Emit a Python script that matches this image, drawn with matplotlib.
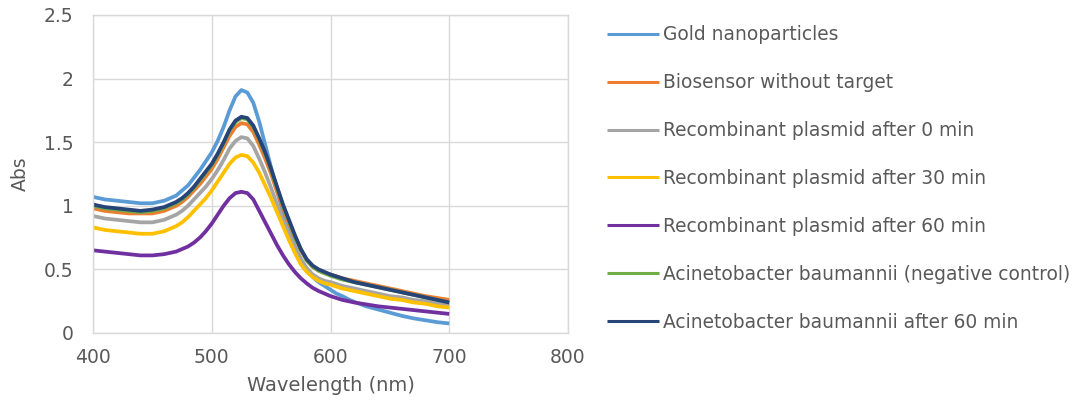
import matplotlib
matplotlib.use("Agg")
import matplotlib.pyplot as plt

wavelength = [400, 410, 420, 430, 440, 450,
              460, 465, 470, 475, 480, 485, 490, 495, 500, 505, 510, 515, 520, 525, 530, 535,
              540, 545, 550, 555, 560, 565, 570, 575, 580, 585, 590, 595, 600, 605, 610, 615, 620,
              630, 640, 650, 660, 670, 680, 690, 700]

gold = [1.07, 1.05, 1.04, 1.03, 1.02, 1.02,
        1.04, 1.06, 1.08, 1.12, 1.16, 1.22, 1.28, 1.35, 1.42, 1.51, 1.62, 1.75, 1.86, 1.91, 1.89, 1.81,
        1.66, 1.48, 1.30, 1.12, 0.95, 0.80, 0.68, 0.58, 0.50, 0.44, 0.40, 0.37, 0.34, 0.31, 0.29, 0.265, 0.245,
        0.21, 0.185, 0.16, 0.135, 0.115, 0.10, 0.085, 0.075]
biosensor = [0.98, 0.96, 0.95, 0.94, 0.94, 0.94,
             0.96, 0.98, 1.00, 1.03, 1.07, 1.12, 1.17, 1.23, 1.29, 1.37, 1.46, 1.55, 1.62, 1.65, 1.64, 1.58,
             1.48, 1.37, 1.25, 1.11, 0.98, 0.86, 0.75, 0.65, 0.57, 0.52, 0.49, 0.47, 0.46, 0.445, 0.43, 0.42, 0.41,
             0.39, 0.37, 0.35, 0.33, 0.31, 0.29, 0.275, 0.26]
plasmid_0 = [0.92, 0.90, 0.89, 0.88, 0.87, 0.87,
             0.89, 0.91, 0.93, 0.96, 1.00, 1.05, 1.10, 1.15, 1.21, 1.28, 1.36, 1.45, 1.51, 1.54, 1.53, 1.47,
             1.37, 1.26, 1.14, 1.01, 0.89, 0.78, 0.67, 0.58, 0.51, 0.46, 0.43, 0.41, 0.40, 0.385, 0.37, 0.36, 0.35,
             0.33, 0.31, 0.29, 0.28, 0.26, 0.25, 0.23, 0.22]
plasmid_30 = [0.83, 0.81, 0.80, 0.79, 0.78, 0.78,
              0.80, 0.82, 0.84, 0.87, 0.91, 0.96, 1.01, 1.06, 1.12, 1.19, 1.26, 1.33, 1.38, 1.40, 1.39, 1.34,
              1.26, 1.16, 1.06, 0.95, 0.84, 0.73, 0.63, 0.54, 0.48, 0.44, 0.41, 0.39, 0.38, 0.365, 0.35, 0.34, 0.33,
              0.31, 0.29, 0.27, 0.26, 0.24, 0.23, 0.21, 0.20]
plasmid_60 = [0.65, 0.64, 0.63, 0.62, 0.61, 0.61,
              0.62, 0.63, 0.64, 0.66, 0.68, 0.71, 0.75, 0.80, 0.86, 0.93, 1.00, 1.06, 1.10, 1.11, 1.10, 1.05,
              0.96, 0.87, 0.78, 0.69, 0.61, 0.54, 0.48, 0.43, 0.39, 0.355, 0.33, 0.31, 0.29, 0.275, 0.26, 0.25, 0.24,
              0.225, 0.21, 0.20, 0.19, 0.18, 0.17, 0.16, 0.15]
acineto_neg = [1.00, 0.98, 0.97, 0.96, 0.95, 0.96,
               0.98, 1.00, 1.02, 1.05, 1.09, 1.14, 1.20, 1.26, 1.32, 1.40, 1.49, 1.59, 1.66, 1.69, 1.68, 1.62,
               1.52, 1.41, 1.28, 1.14, 1.00, 0.88, 0.76, 0.66, 0.57, 0.52, 0.49, 0.47, 0.45, 0.435, 0.42, 0.41, 0.40,
               0.38, 0.36, 0.34, 0.32, 0.30, 0.28, 0.26, 0.24]
acineto_60 = [1.01, 0.99, 0.98, 0.97, 0.96, 0.97,
              0.99, 1.01, 1.03, 1.06, 1.10, 1.15, 1.21, 1.27, 1.33, 1.41, 1.50, 1.60, 1.67, 1.70, 1.69, 1.63,
              1.53, 1.42, 1.29, 1.15, 1.01, 0.89, 0.77, 0.66, 0.58, 0.53, 0.50, 0.48, 0.46, 0.445, 0.43, 0.415, 0.40,
              0.38, 0.36, 0.34, 0.32, 0.30, 0.28, 0.26, 0.24]

labels = ["Gold nanoparticles", "Biosensor without target", "Recombinant plasmid after 0 min",
          "Recombinant plasmid after 30 min", "Recombinant plasmid after 60 min",
          "Acinetobacter baumannii (negative control)", "Acinetobacter baumannii after 60 min"]
series = [gold, biosensor, plasmid_0, plasmid_30, plasmid_60, acineto_neg, acineto_60]
colors = ["#5B9BD5", "#ED7D31", "#A5A5A5", "#FFC000", "#7030A0", "#70AD47", "#264478"]

x_ticks = [400, 500, 600, 700, 800]
y_ticks = [0, 0.5, 1, 1.5, 2, 2.5]
y_ticklabels = ["0", "0.5", "1", "1.5", "2", "2.5"]

plt.rcParams['font.family'] = ['DejaVu Sans']
text_color = "#595959"
grid_color = "#D9D9D9"

fig = plt.figure(figsize=(10.74, 4.0), dpi=100)
ax = fig.add_axes([93 / 1074, 1 - 333 / 400, (568 - 93) / 1074, (333 - 15) / 400])

for y, c, lab in zip(series, colors, labels):
    ax.plot(wavelength, y, color=c, lw=2.7, label=lab,
            solid_capstyle="butt", solid_joinstyle="round")

ax.set_xlim(400, 800)
ax.set_ylim(0, 2.5)
ax.set_xticks(x_ticks)
ax.set_yticks(y_ticks)
ax.set_yticklabels(y_ticklabels)
ax.grid(True, color=grid_color, lw=1.0)
ax.set_axisbelow(True)
for s in ax.spines.values():
    s.set_color(grid_color)
    s.set_linewidth(1.0)
ax.tick_params(axis="both", length=0, labelsize=13.5, colors=text_color)
ax.tick_params(axis="x", pad=11)
ax.tick_params(axis="y", pad=14)
ax.set_xlabel("Wavelength (nm)", fontsize=14, color=text_color, labelpad=6)
ax.set_ylabel("Abs", fontsize=13.5, color=text_color, labelpad=10)

leg = ax.legend(loc="upper left", bbox_to_anchor=(600 / 1074, 1 - 18 / 400),
                bbox_transform=fig.transFigure, frameon=False, fontsize=13.4,
                handlelength=2.75, handletextpad=0.22, labelspacing=1.55, borderaxespad=0)
for t in leg.get_texts():
    t.set_color(text_color)
for h in leg.get_lines():
    h.set_linewidth(2.2)

fig.savefig("out.png", dpi=100)
